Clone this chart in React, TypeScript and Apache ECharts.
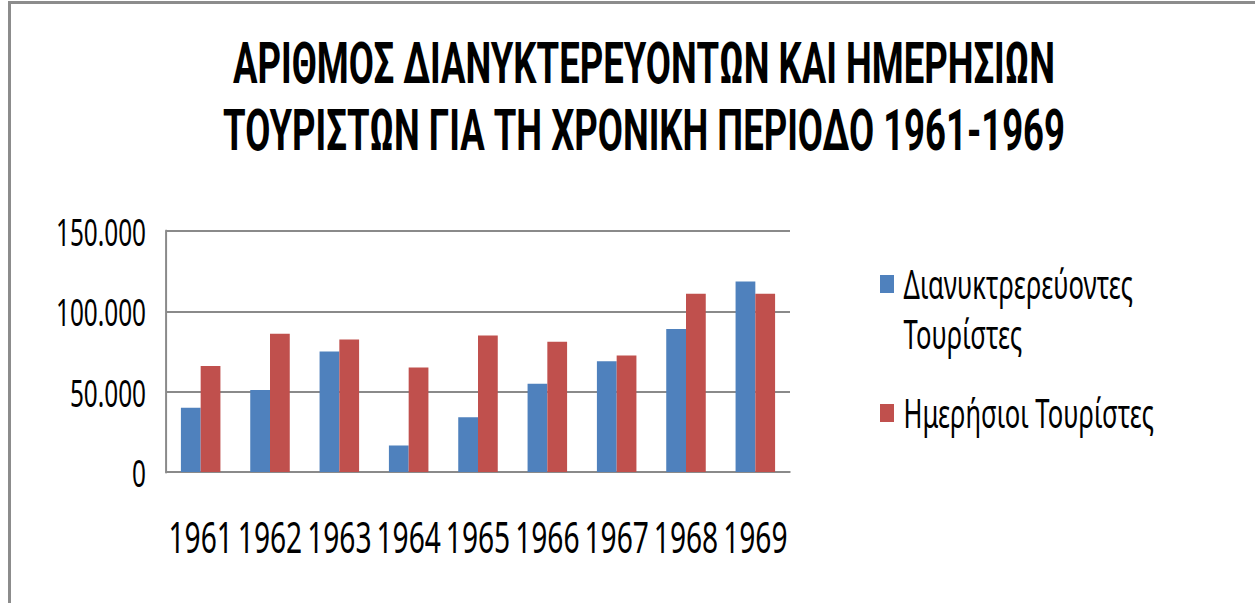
import React, { useEffect, useRef } from 'react';
import * as echarts from 'echarts';

const categories = ['1961', '1962', '1963', '1964', '1965', '1966', '1967', '1968', '1969'];
const overnightTourists = [40000, 51000, 75000, 16500, 34000, 55000, 69000, 89000, 118500];
const sameDayTourists = [66000, 86000, 82500, 65000, 85000, 81000, 72500, 111000, 111000];
const seriesNames = ['Διανυκτρερεύοντες Τουρίστες', 'Ημερήσιοι Τουρίστες'];
const legendLines = ['Διανυκτρερεύοντες', 'Τουρίστες'];
const titleLines = [
  'ΑΡΙΘΜΟΣ ΔΙΑΝΥΚΤΕΡΕΥΟΝΤΩΝ ΚΑΙ ΗΜΕΡΗΣΙΩΝ',
  'ΤΟΥΡΙΣΤΩΝ ΓΙΑ ΤΗ ΧΡΟΝΙΚΗ ΠΕΡΙΟΔΟ 1961-1969',
];
const yMin = 0;
const yMax = 150000;
const yInterval = 50000;

const SX = 0.64;
const WIDTH = 1255;
const HEIGHT = 603;
const INNER_W = WIDTH / SX;
const FONT = '"Noto Sans", sans-serif';
const TITLE_FONT = 'Roboto, "Noto Sans", sans-serif';
const px = (x: number) => x / SX;

const fmt = (v: number) => String(v).replace(/\B(?=(\d{3})+(?!\d))/g, '.');

export default function App() {
  const ref = useRef<HTMLDivElement>(null);

  useEffect(() => {
    const prevMargin = document.body.style.margin;
    document.body.style.margin = '0';
    const chart = echarts.init(ref.current as HTMLDivElement, null, {
      renderer: 'svg',
      width: INNER_W,
      height: HEIGHT,
    });
    const L = 50;
    const LEG_FS = 40;
    chart.setOption({
      animation: false,
      backgroundColor: 'transparent',
      title: {
        text: titleLines.join('\n'),
        left: px(644) - 5,
        top: 25,
        textAlign: 'center',
        textStyle: {
          fontFamily: TITLE_FONT,
          fontSize: 57,
          fontWeight: 'bold',
          color: '#000',
          lineHeight: 67,
        },
      },
      legend: [
        {
          data: [seriesNames[0]],
          orient: 'vertical',
          left: px(880) - 5,
          top: 284 - 5 - 1.5 * L,
          itemWidth: px(14),
          itemHeight: 18,
          icon: 'rect',
          formatter: () => legendLines.map((s) => `{a|${s}}`).join('\n'),
          textStyle: {
            fontFamily: FONT,
            fontSize: LEG_FS,
            color: '#000',
            lineHeight: L,
            padding: [L, 0, 0, 10],
            rich: {
              a: { fontFamily: FONT, fontSize: LEG_FS, color: '#000', lineHeight: L },
            },
          },
        },
        {
          data: [seriesNames[1]],
          orient: 'vertical',
          left: px(880) - 5,
          top: 413 - 5 - L / 2,
          itemWidth: px(14),
          itemHeight: 18,
          icon: 'rect',
          textStyle: {
            fontFamily: FONT,
            fontSize: LEG_FS,
            color: '#000',
            lineHeight: L,
            padding: [0, 0, 0, 10],
          },
        },
      ],
      grid: {
        left: px(166),
        right: INNER_W - px(790),
        top: 231,
        bottom: HEIGHT - 472,
        containLabel: false,
      },
      xAxis: {
        type: 'category',
        data: categories,
        axisLine: { show: true, lineStyle: { color: '#8a8a8a', width: 2 } },
        axisTick: { show: false },
        axisLabel: {
          interval: 0,
          margin: 42,
          fontFamily: FONT,
          fontSize: 44,
          color: '#000',
        },
      },
      yAxis: {
        type: 'value',
        min: yMin,
        max: yMax,
        interval: yInterval,
        axisLine: { show: true, lineStyle: { color: '#8a8a8a', width: px(2) } },
        axisTick: { show: false },
        splitLine: { show: true, lineStyle: { color: '#8a8a8a', width: 2 } },
        axisLabel: {
          margin: px(20),
          fontFamily: FONT,
          fontSize: 38,
          color: '#000',
          formatter: (v: number) => fmt(v),
        },
      },
      series: [
        {
          name: seriesNames[0],
          type: 'bar',
          data: overnightTourists,
          itemStyle: { color: '#4F81BD' },
          barGap: '0%',
          barCategoryGap: '43%',
        },
        {
          name: seriesNames[1],
          type: 'bar',
          data: sameDayTourists,
          itemStyle: { color: '#C0504D' },
          barGap: '0%',
          barCategoryGap: '43%',
        },
      ],
    });
    return () => {
      chart.dispose();
      document.body.style.margin = prevMargin;
    };
  }, []);

  return (
    <div
      style={{
        position: 'relative',
        width: WIDTH,
        height: HEIGHT,
        overflow: 'hidden',
        background: '#fff',
      }}
    >
      <div
        ref={ref}
        style={{
          position: 'absolute',
          left: 0,
          top: 0,
          width: INNER_W,
          height: HEIGHT,
          transform: `scaleX(${SX})`,
          transformOrigin: '0 0',
        }}
      />
      <div
        style={{
          position: 'absolute',
          left: 8,
          top: 1,
          width: 1250,
          height: 700,
          border: '3px solid #8c8c8c',
          boxSizing: 'border-box',
          pointerEvents: 'none',
        }}
      />
    </div>
  );
}
